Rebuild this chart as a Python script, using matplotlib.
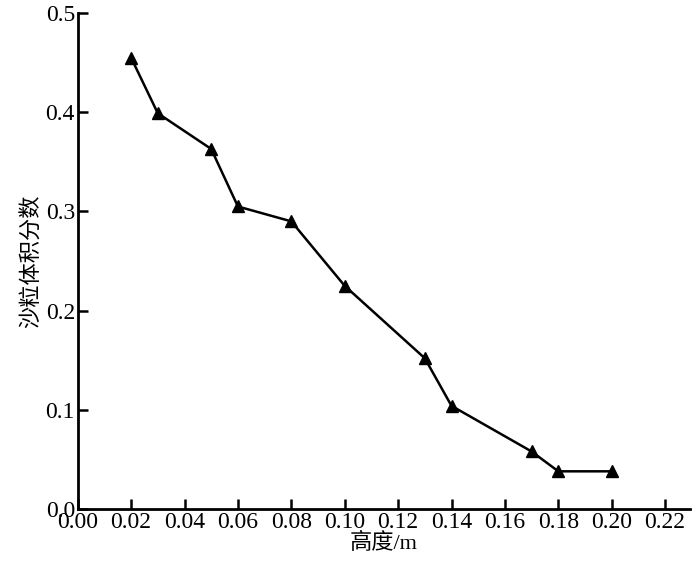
import matplotlib
matplotlib.use("Agg")
import matplotlib.pyplot as plt

plt.rcParams['font.family'] = ['Liberation Serif', 'Noto Sans CJK SC']

# 高度 (m) 与 沙粒体积分数
height = [0.02, 0.03, 0.05, 0.06, 0.08, 0.10, 0.13, 0.14, 0.17, 0.18, 0.20]
fraction = [0.455, 0.399, 0.363, 0.305, 0.290, 0.225, 0.152, 0.104, 0.058, 0.038, 0.038]

xticks = [0.00, 0.02, 0.04, 0.06, 0.08, 0.10, 0.12, 0.14, 0.16, 0.18, 0.20, 0.22]
yticks = [0.0, 0.1, 0.2, 0.3, 0.4, 0.5]

fig = plt.figure(figsize=(7, 5.76), dpi=100)
ax = fig.add_axes([0.111, 0.1163, 0.875, 0.861])

ax.plot(height, fraction, color='black', linewidth=1.8, marker='^',
        markersize=9, markerfacecolor='black', markeredgecolor='black')

ax.set_xlim(0, 0.2294)
ax.set_ylim(0, 0.5)
ax.set_xticks(xticks)
ax.set_xticklabels([f"{v:.2f}" for v in xticks])
ax.set_yticks(yticks)
ax.set_yticklabels([f"{v:.1f}" for v in yticks])

for s in ['top', 'right']:
    ax.spines[s].set_visible(False)
for s in ['left', 'bottom']:
    ax.spines[s].set_linewidth(2)

ax.tick_params(direction='in', length=7, width=1.8, labelsize=17, pad=2)
ax.set_xlabel('高度/m', fontsize=16, labelpad=0)
ax.set_ylabel('沙粒体积分数', fontsize=16, labelpad=2)

fig.savefig('out.png', dpi=100)
